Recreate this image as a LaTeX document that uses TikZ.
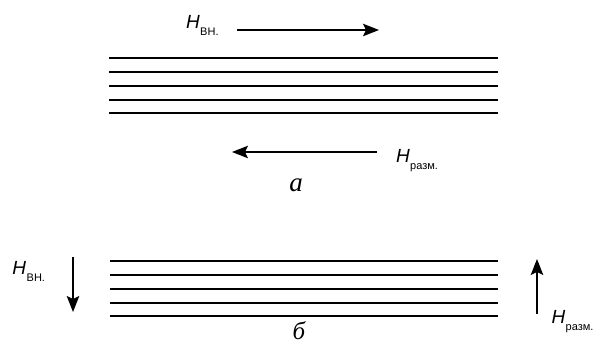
\documentclass[tikz,border=0pt]{standalone}
\usepackage{fontspec}
\newfontfamily\lsans{Liberation Sans}
\newfontfamily\lserif{Liberation Serif}
\usetikzlibrary{arrows.meta}
\newcommand{\Hlab}[1]{{\lsans\fontsize{19}{19}\selectfont\itshape H}\kern0.5pt\raisebox{-7pt}{\lsans\fontsize{11}{11}\selectfont #1}}
\begin{document}
\begin{tikzpicture}[x=1pt,y=-1pt,
  plate/.style={line width=2.6pt},
  fieldarrow/.style={line width=1.2pt,-{Stealth[length=16pt,width=12.5pt,inset=3pt]}},
  lab/.style={anchor=base west,inner sep=0pt,outer sep=0pt},
  letter/.style={anchor=base,inner sep=0pt,font=\lserif\itshape\fontsize{27}{27}\selectfont}]
\useasboundingbox (0,0) rectangle (598,344);
% part a
\foreach \y in {58,72,86,100,113}{\draw[plate] (109,\y) -- (498,\y);}
\node[lab] (hvnA) at (186,28.5) {\Hlab{ВН.}};
\coordinate (a1s) at (237,30);
\coordinate (a1e) at (379,30);
\draw[fieldarrow] (a1s) -- (a1e);
\coordinate (a2s) at (377,152);
\coordinate (a2e) at (232,152);
\draw[fieldarrow] (a2s) -- (a2e);
\node[lab] (hrzA) at (396,162.5) {\Hlab{разм.}};
\node[letter] (la) at (296,192) {a};
% part b
\foreach \y in {261,275,289,303,316}{\draw[plate] (110,\y) -- (498,\y);}
\node[lab] (hvnB) at (12.5,275) {\Hlab{ВН.}};
\coordinate (b1s) at (73,257);
\coordinate (b1e) at (73,312);
\draw[fieldarrow] (b1s) -- (b1e);
\coordinate (b2s) at (537,314);
\coordinate (b2e) at (537,259);
\draw[fieldarrow] (b2s) -- (b2e);
\node[lab] (hrzB) at (551.5,324) {\Hlab{разм.}};
\node[letter,font=\lserif\itshape\fontsize{25}{25}\selectfont] (lb) at (299,339.5) {б};
\end{tikzpicture}
\end{document}
